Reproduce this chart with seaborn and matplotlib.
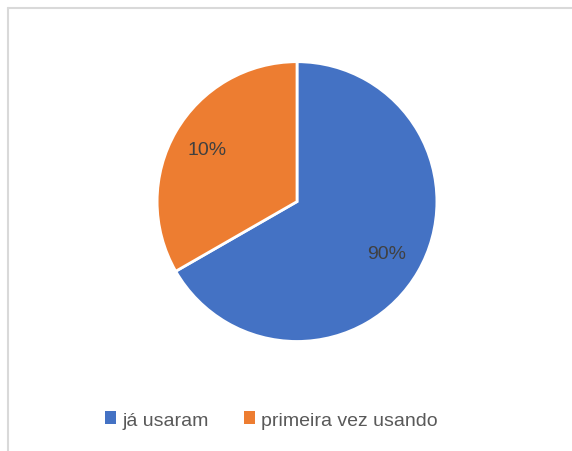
import matplotlib
matplotlib.use("Agg")
import matplotlib.pyplot as plt
import seaborn as sns
from matplotlib.lines import Line2D
from matplotlib.patches import Patch

# dados
categorias = ["já usaram", "primeira vez usando"]
valores = [66.7, 33.3]          # tamanho das fatias como aparecem no gráfico
rotulos = ["90%", "10%"]        # rótulos escritos nas fatias
cores = ["#4472C4", "#ED7D31"]

sns.set_theme(style="white")
plt.rcParams['font.family'] = ['Liberation Sans', 'DejaVu Sans']

fig = plt.figure(figsize=(5.72, 4.52), dpi=100)
ax = fig.add_axes([0.2745, 0.2423, 0.4895, 0.619])

paleta = sns.color_palette(cores)
it = iter(rotulos)
wedges, _, autotexts = ax.pie(
    valores,
    colors=paleta,
    startangle=90,
    counterclock=False,
    autopct=lambda p: next(it),
    pctdistance=0.74,
    wedgeprops=dict(edgecolor="white", linewidth=2),
    textprops=dict(color="#404040", fontsize=14),
    radius=1.0,
)
ax.set_aspect("equal")
ax.set_xlim(-1, 1)
ax.set_ylim(-1, 1)

# legenda com quadrados sem borda
handles = [Patch(facecolor=c, edgecolor="none") for c in paleta]
leg = fig.legend(
    handles, categorias,
    loc="center", bbox_to_anchor=(0.474, 0.0686), ncol=2,
    frameon=False, handlelength=0.6, handleheight=0.6,
    handletextpad=0.3, columnspacing=1.8,
    prop=dict(size=14),
)
for t in leg.get_texts():
    t.set_color("#595959")

# moldura cinza (só topo e esquerda visíveis)
fig.add_artist(Line2D([8 / 572, 1], [1 - 9 / 452, 1 - 9 / 452], color="#D9D9D9", lw=1.5))
fig.add_artist(Line2D([8 / 572, 8 / 572], [0, 1 - 9 / 452], color="#D9D9D9", lw=1.5))

fig.savefig("out.png", dpi=100, facecolor="white")
